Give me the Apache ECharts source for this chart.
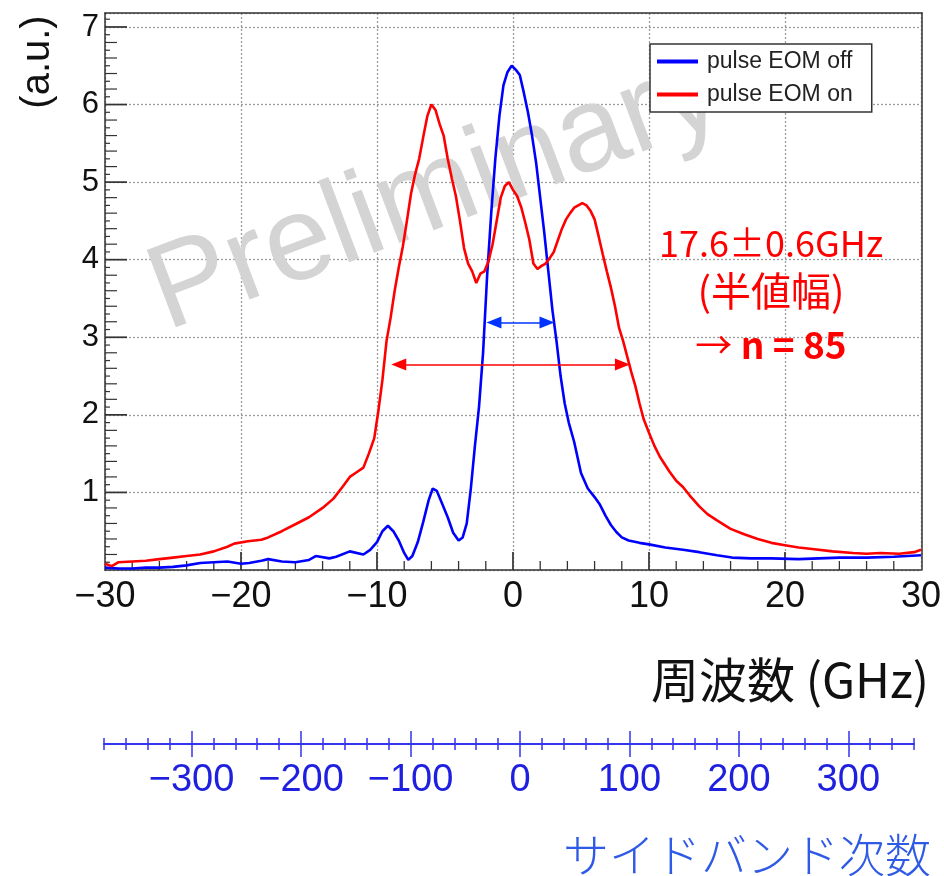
<!DOCTYPE html>
<html><head><meta charset="utf-8">
<script src="https://cdn.jsdelivr.net/npm/echarts@6/dist/echarts.min.js"></script>
<style>html,body{margin:0;padding:0;background:#fff}#c{width:944px;height:876px}</style>
</head><body><div id="c"></div>
<script>
// ---------- data ----------
const seriesNames = ['pulse EOM off', 'pulse EOM on'];

const freqOff = [-30,-29,-28,-27,-26,-25,-24,-23,-22,-21,-20,
  -19.4,-18.5,-18,-17,-16,-15,-14.5,-13.5,-13,-12,-11,-10.5,-10,
  -9.6,-9.2,-8.8,-8.4,-8.0,-7.7,-7.4,-7.0,-6.6,-6.2,-5.9,-5.6,-5.2,-4.8,-4.4,-4.0,-3.7,-3.4,-3.1,-2.8,-2.5,-2.2,-1.9,-1.6,-1.3,-1.0,-0.7,-0.4,-0.1,
  0.2,0.5,0.8,1.1,1.4,1.7,2.0,2.3,2.6,2.9,3.2,3.5,3.8,4.1,4.5,
  5.0,5.5,6.0,6.4,6.8,7.2,7.6,8.0,8.5,9.3,10,
  11.2,12.5,13.7,15,16.1,17.5,19,21,22.5,24,26,28,30];
const sigOff = [0.03,0.02,0.02,0.03,0.03,0.04,0.06,0.09,0.10,0.11,0.08,
  0.09,0.12,0.14,0.11,0.10,0.13,0.18,0.15,0.17,0.24,0.20,0.26,0.36,
  0.50,0.57,0.50,0.38,0.22,0.13,0.18,0.36,0.62,0.90,1.05,1.02,0.85,0.68,0.48,0.38,0.42,0.60,1.05,1.6,2.1,2.8,3.8,4.6,5.3,5.85,6.25,6.42,6.5,
  6.45,6.38,6.15,5.9,5.6,5.25,4.8,4.35,3.85,3.35,2.95,2.5,2.15,1.9,1.65,
  1.25,1.05,0.94,0.84,0.70,0.58,0.49,0.42,0.38,0.35,0.33,
  0.29,0.26,0.23,0.19,0.16,0.15,0.15,0.14,0.15,0.16,0.16,0.17,0.19];

const freqOn = [-30,-29.5,-29,-28,-27,-26,-25,-24,-23,-22,-21,
  -20.5,-19.5,-18.5,-18,-17,-16,-15,-14,-13.2,-12.5,-12,-11.5,-11,-10.6,-10.2,
  -9.9,-9.6,-9.3,-9.0,-8.7,-8.4,-8.1,-7.8,-7.5,-7.2,-6.9,-6.6,-6.3,-6.0,-5.7,-5.4,-5.1,-4.8,-4.5,-4.2,-3.9,-3.6,-3.3,-3.0,-2.7,-2.4,-2.1,-1.8,-1.5,-1.2,-0.9,-0.6,-0.3,
  0.0,0.3,0.6,0.9,1.2,1.5,1.8,2.1,2.4,2.7,3.0,3.3,3.6,3.9,4.2,4.5,4.8,5.1,5.4,5.7,6.0,6.3,6.6,6.9,7.2,7.5,7.8,8.1,8.4,8.7,9.0,9.3,9.6,
  10.0,10.4,10.8,11.5,12.0,12.5,13.0,13.7,14.3,
  15,16,17,18,19,20,21,22,23.5,25,26,27,28.4,29.5,30];
const sigOn = [0.08,0.05,0.10,0.11,0.12,0.14,0.16,0.18,0.20,0.24,0.30,
  0.34,0.37,0.39,0.42,0.50,0.59,0.68,0.80,0.92,1.08,1.20,1.26,1.32,1.50,1.70,
  2.05,2.45,2.95,3.25,3.6,3.9,4.17,4.5,4.85,5.1,5.3,5.58,5.85,6.0,5.93,5.75,5.6,5.3,5.05,4.82,4.5,4.15,3.95,3.85,3.70,3.82,3.85,3.98,4.2,4.5,4.8,4.95,5.0,
  4.9,4.82,4.68,4.48,4.26,3.95,3.88,3.92,3.95,4.02,4.1,4.25,4.4,4.52,4.6,4.67,4.7,4.73,4.7,4.63,4.52,4.3,4.07,3.85,3.64,3.4,3.12,2.95,2.75,2.55,2.37,2.15,1.95,
  1.77,1.6,1.46,1.27,1.15,1.07,0.96,0.82,0.72,
  0.64,0.53,0.46,0.40,0.35,0.32,0.29,0.27,0.24,0.22,0.21,0.22,0.21,0.23,0.26];

const freqRange = [-30, 30];
const intensityRange = [0, 7.18];
const yTickLabels = [1, 2, 3, 4, 5, 6, 7];
const sidebandRange = [-380, 360];
const sidebandMajor = [-300, -200, -100, 0, 100, 200, 300];

// FWHM arrows (arrow-head centres, GHz) and their height (a.u.)
const redArrow = [-8.4, 8.05, 2.65];
const blueArrow = [-1.4, 2.5, 3.19];

const annotationLines = ['17.6±0.6GHz', '(半値幅)', '→ ', 'n = 85'];
const xTitle = '周波数 (GHz)';
const yTitle = '(a.u.)';
const sidebandTitle = 'サイドバンド次数';
const watermark = 'Preliminary';

// ---------- axis tick positions (ROOT-style inward ticks) ----------
// y: every 0.1, level 2 at integers, level 1 at 0.2 steps, level 0 otherwise
const yTickMarks = [];
for (let i = 1; i <= 71; i++) yTickMarks.push([i / 10, i % 10 === 0 ? 2 : (i % 2 === 0 ? 1 : 0)]);
// x: every 2 GHz, level 1 at multiples of 10
const xTickMarks = [];
for (let v = -28; v <= 28; v += 2) xTickMarks.push([v, v % 10 === 0 ? 1 : 0]);

// ---------- chart ----------
const zip = (xs, ys) => xs.map((x, i) => [x, ys[i]]);
const minus = v => (v < 0 ? '\u2212' + (-v) : String(v));
const LS = 'Liberation Sans';
const CJK = 'Noto Sans CJK JP';
const BLUE_AX = '#3535f0';
const FRAME = '#333';
const Y_TICK_LEN = [5, 12, 22];
const X_TICK_LEN = [9, 18];

const chart = echarts.init(document.getElementById('c'), null, {renderer: 'canvas'});

const P = {left: 105, right: 22, top: 13, bottom: 306};
const gridSide = {left: 104, right: 30, top: 744, height: 0};

function arrowLine(a, color) {
  return {
    silent: true, animation: false,
    symbol: ['triangle', 'triangle'], symbolSize: [12, 15],
    label: {show: false},
    lineStyle: {color: color, width: 1.6, type: 'solid'},
    emphasis: {disabled: true},
    data: [[{coord: [a[0], a[2]]}, {coord: [a[1], a[2]]}]]
  };
}

const option = {
  animation: false,
  backgroundColor: '#fff',
  grid: [
    Object.assign({}, P),
    Object.assign({}, P),
    Object.assign({}, gridSide),
    Object.assign({}, gridSide)
  ],
  xAxis: [
    {
      gridIndex: 0, type: 'value', position: 'bottom', min: freqRange[0], max: freqRange[1], interval: 10,
      axisLine: {show: true, onZero: false, lineStyle: {color: FRAME, width: 1.5}},
      axisTick: {show: false},
      splitLine: {show: true, lineStyle: {color: '#9c9c9c', width: 1.3, type: [2, 2]}},
      axisLabel: {fontFamily: LS, fontSize: 36, color: '#111', margin: 9, formatter: minus}
    },
    {
      gridIndex: 1, type: 'value', position: 'top', min: freqRange[0], max: freqRange[1],
      axisLine: {show: true, onZero: false, lineStyle: {color: FRAME, width: 1.5}},
      axisTick: {show: false}, axisLabel: {show: false}, splitLine: {show: false}
    },
    {
      gridIndex: 2, type: 'value', position: 'bottom', min: sidebandRange[0], max: sidebandRange[1], interval: 20,
      axisLine: {show: true, onZero: false, lineStyle: {color: BLUE_AX, width: 2}},
      axisTick: {show: true, length: 6, lineStyle: {color: BLUE_AX, width: 1.5}},
      splitLine: {show: false},
      axisLabel: {show: true, interval: 0, fontFamily: LS, fontSize: 38, color: '#1f1fe0', margin: 18,
        formatter: v => (sidebandMajor.indexOf(v) >= 0 ? minus(v) : '')}
    },
    {
      gridIndex: 2, type: 'value', position: 'top', min: sidebandRange[0], max: sidebandRange[1], interval: 20,
      axisLine: {show: false, onZero: false},
      axisTick: {show: true, length: 6, lineStyle: {color: BLUE_AX, width: 1.5}},
      splitLine: {show: false}, axisLabel: {show: false}
    },
    {
      gridIndex: 3, type: 'value', position: 'bottom', min: sidebandRange[0], max: sidebandRange[1],
      axisLine: {show: false, onZero: false},
      axisTick: {show: true, length: 13, customValues: sidebandMajor, lineStyle: {color: BLUE_AX, width: 1.5}},
      splitLine: {show: false}, axisLabel: {show: false}
    },
    {
      gridIndex: 3, type: 'value', position: 'top', min: sidebandRange[0], max: sidebandRange[1],
      axisLine: {show: false, onZero: false},
      axisTick: {show: true, length: 13, customValues: sidebandMajor, lineStyle: {color: BLUE_AX, width: 1.5}},
      splitLine: {show: false}, axisLabel: {show: false}
    }
  ],
  yAxis: [
    {
      gridIndex: 0, type: 'value', position: 'left', min: intensityRange[0], max: intensityRange[1], interval: 1,
      axisLine: {show: true, onZero: false, lineStyle: {color: FRAME, width: 1.5}},
      axisTick: {show: false},
      splitLine: {show: true, lineStyle: {color: '#9c9c9c', width: 1.3, type: [2, 2]}},
      axisLabel: {fontFamily: LS, fontSize: 31, color: '#111', margin: 6,
        formatter: v => (yTickLabels.indexOf(v) >= 0 ? String(v) : '')}
    },
    {
      gridIndex: 1, type: 'value', position: 'right', min: intensityRange[0], max: intensityRange[1],
      axisLine: {show: true, onZero: false, lineStyle: {color: FRAME, width: 1.5}},
      axisTick: {show: false}, axisLabel: {show: false}, splitLine: {show: false}
    },
    {gridIndex: 2, type: 'value', show: false, axisLine: {onZero: false}},
    {gridIndex: 3, type: 'value', show: false, axisLine: {onZero: false}}
  ],
  legend: {
    orient: 'vertical', left: 650, top: 44,
    padding: [6, 19, 6, 7], itemGap: 10, itemWidth: 41, itemHeight: 4,
    icon: 'rect',
    borderColor: '#333', borderWidth: 1.5, backgroundColor: '#fff',
    textStyle: {fontFamily: LS, fontSize: 23, color: '#222', lineHeight: 22, padding: [0, 0, 0, 4]},
    data: seriesNames
  },
  graphic: [
    {type: 'text', z: 1, x: 436, y: 194, rotation: 0.36,
      style: {text: watermark, fontFamily: LS, fontSize: 120, fill: '#d4d4d4', align: 'center', verticalAlign: 'middle'}},
    {type: 'text', x: 38, y: 62, rotation: Math.PI / 2,
      style: {text: yTitle, fontFamily: LS, fontSize: 40, fill: '#111', align: 'center', verticalAlign: 'middle'}},
    {type: 'text', x: 929, y: 680,
      style: {text: xTitle, fontFamily: CJK, fontSize: 48, fill: '#111', align: 'right', verticalAlign: 'middle'}},
    {type: 'text', x: 931, y: 855,
      style: {text: sidebandTitle, fontFamily: CJK, fontWeight: 300, fontSize: 46, fill: '#2f5ae6', align: 'right', verticalAlign: 'middle'}},
    {type: 'text', x: 771, y: 243, z: 5,
      style: {text: annotationLines[0], fontFamily: CJK, fontSize: 36, fill: '#ff0000', align: 'center', verticalAlign: 'middle'}},
    {type: 'text', x: 771, y: 291, z: 5,
      style: {text: annotationLines[1], fontFamily: CJK, fontSize: 40, fill: '#ff0000', align: 'center', verticalAlign: 'middle'}},
    {type: 'text', x: 771, y: 345, z: 5,
      style: {text: '{a|' + annotationLines[2] + '}{b|' + annotationLines[3] + '}', align: 'center', verticalAlign: 'middle',
        rich: {
          a: {fontFamily: CJK, fontSize: 37, fill: '#ff0000', color: '#ff0000'},
          b: {fontFamily: CJK, fontSize: 37, fontWeight: 'bold', fill: '#ff0000', color: '#ff0000'}
        }}}
  ],
  series: [
    {
      name: seriesNames[0], type: 'line', xAxisIndex: 0, yAxisIndex: 0,
      data: zip(freqOff, sigOff), symbol: 'none', smooth: false,
      lineStyle: {color: '#0000ff', width: 2.6}, itemStyle: {color: '#0000ff'},
      markLine: arrowLine(blueArrow, '#0033ff')
    },
    {
      name: seriesNames[1], type: 'line', xAxisIndex: 0, yAxisIndex: 0,
      data: zip(freqOn, sigOn), symbol: 'none', smooth: false,
      lineStyle: {color: '#ff0000', width: 2.6}, itemStyle: {color: '#ff0000'},
      markLine: arrowLine(redArrow, '#ff0000')
    },
    {
      name: 'yTicks', type: 'custom', xAxisIndex: 0, yAxisIndex: 0, silent: true, z: 3,
      data: yTickMarks,
      encode: {y: 0},
      renderItem: function (params, api) {
        const v = api.value(0), k = api.value(1);
        const p = api.coord([freqRange[0], v]);
        return {type: 'line', shape: {x1: p[0], y1: p[1], x2: p[0] + Y_TICK_LEN[k], y2: p[1]},
          style: {stroke: FRAME, lineWidth: k === 2 ? 1.7 : 1.2, fill: null}};
      }
    },
    {
      name: 'xTicks', type: 'custom', xAxisIndex: 0, yAxisIndex: 0, silent: true, z: 3,
      data: xTickMarks,
      encode: {x: 0},
      renderItem: function (params, api) {
        const v = api.value(0), k = api.value(1);
        const p = api.coord([v, intensityRange[0]]);
        return {type: 'line', shape: {x1: p[0], y1: p[1], x2: p[0], y2: p[1] - X_TICK_LEN[k]},
          style: {stroke: FRAME, lineWidth: k === 1 ? 1.7 : 1.3, fill: null}};
      }
    }
  ]
};
chart.setOption(option);
</script>
</body></html>
